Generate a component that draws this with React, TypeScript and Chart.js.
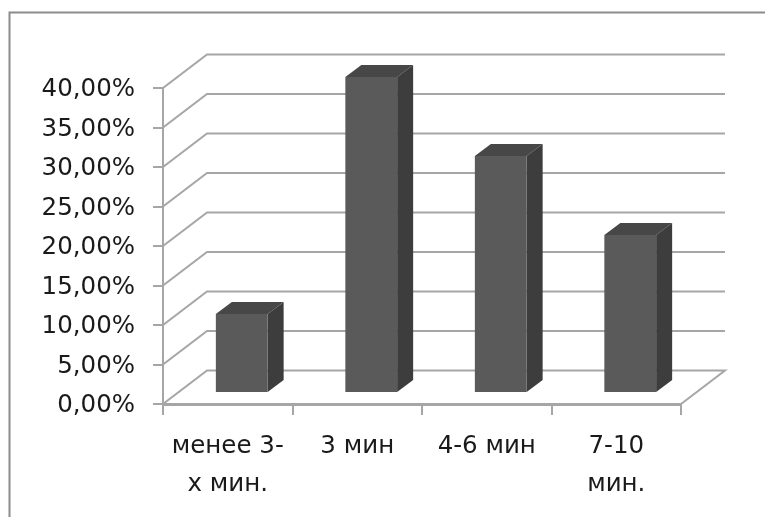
import React, { useEffect, useRef } from "react";
import { Chart, registerables } from "chart.js";

Chart.register(...registerables);

const categories = [["менее 3-", "х мин."], ["3 мин"], ["4-6 мин"], ["7-10", "мин."]];
const shares = [10, 40, 30, 20];
const FONT = "'DejaVu Sans', sans-serif";
const DX = 44;
const DY = 33.5;
const BAR_DX = 14;
const BAR_DY = 11;
const SIDE_DX = 16;
const SIDE_DY = 12;
const GRID = "#a6a6a6";

const depth = {
  id: "depth",
  beforeDatasetsDraw(chart: any) {
    const { ctx, chartArea: a, scales } = chart;
    ctx.save();
    ctx.strokeStyle = GRID;
    ctx.lineWidth = 2;
    scales.y.ticks.forEach((t: any) => {
      const y = scales.y.getPixelForValue(t.value);
      ctx.beginPath();
      ctx.moveTo(a.left, y);
      ctx.lineTo(a.left + DX, y - DY);
      ctx.lineTo(a.right + DX, y - DY);
      if (t.value === 0) ctx.lineTo(a.right, y);
      ctx.stroke();
    });
    ctx.restore();
    ctx.save();
    chart.getDatasetMeta(0).data.forEach((b: any) => {
      const l = b.x - b.width / 2 + BAR_DX;
      const r = b.x + b.width / 2 + BAR_DX;
      const t = b.y - BAR_DY;
      const bo = b.base - BAR_DY;
      ctx.fillStyle = "#474747";
      ctx.beginPath();
      ctx.moveTo(l, t);
      ctx.lineTo(l + SIDE_DX, t - SIDE_DY);
      ctx.lineTo(r + SIDE_DX, t - SIDE_DY);
      ctx.lineTo(r, t);
      ctx.closePath();
      ctx.fill();
      ctx.fillStyle = "#3d3d3d";
      ctx.beginPath();
      ctx.moveTo(r, t);
      ctx.lineTo(r + SIDE_DX, t - SIDE_DY);
      ctx.lineTo(r + SIDE_DX, bo - SIDE_DY);
      ctx.lineTo(r, bo);
      ctx.closePath();
      ctx.fill();
    });
    ctx.restore();
    ctx.save();
    ctx.translate(BAR_DX, -BAR_DY);
  },
  afterDatasetsDraw(chart: any) {
    chart.ctx.restore();
  },
};

const frame = {
  id: "frame",
  beforeDraw(chart: any) {
    const { ctx, width, height } = chart;
    ctx.save();
    ctx.fillStyle = "#ffffff";
    ctx.fillRect(0, 0, width, height);
    ctx.strokeStyle = "#8c8c8c";
    ctx.lineWidth = 2;
    ctx.beginPath();
    ctx.moveTo(9.5, height);
    ctx.lineTo(9.5, 12.5);
    ctx.lineTo(width, 12.5);
    ctx.stroke();
    ctx.restore();
  },
};

export default function App() {
  const ref = useRef<HTMLCanvasElement>(null);
  useEffect(() => {
    const chart = new Chart(ref.current!, {
      type: "bar",
      data: {
        labels: categories as any,
        datasets: [{ data: shares, backgroundColor: "#5a5a5a", barPercentage: 0.4, categoryPercentage: 1 }],
      },
      plugins: [frame, depth],
      options: {
        animation: false,
        responsive: false,
        layout: { padding: { left: 0, right: 84, top: 88, bottom: 0 } },
        plugins: { legend: { display: false }, tooltip: { enabled: false } },
        scales: {
          x: {
            offset: true,
            afterFit(s: any) { s.height = 113; },
            grid: { drawOnChartArea: false, color: GRID, lineWidth: 2, tickLength: 11, offset: true },
            border: { color: GRID, width: 3 },
            ticks: { color: "#1a1a1a", maxRotation: 0, autoSkip: false, padding: 13, font: { family: FONT, size: 24.5, lineHeight: 1.55 } },
          },
          y: {
            min: 0,
            max: 40,
            afterFit(s: any) { s.width = 163; },
            grid: { drawOnChartArea: false, color: GRID, lineWidth: 2, tickLength: 10 },
            border: { color: GRID, width: 2 },
            ticks: {
              stepSize: 5,
              color: "#1a1a1a",
              padding: 18,
              labelOffset: 2,
              font: { family: FONT, size: 24.5 },
              callback: (v: any) => Number(v).toFixed(2).replace(".", ",") + "%",
            },
          },
        },
      },
    });
    return () => chart.destroy();
  }, []);
  return (
    <div style={{ position: "fixed", inset: 0, background: "#fff" }}>
      <canvas ref={ref} width={765} height={517} style={{ display: "block", width: 765, height: 517 }} />
    </div>
  );
}
